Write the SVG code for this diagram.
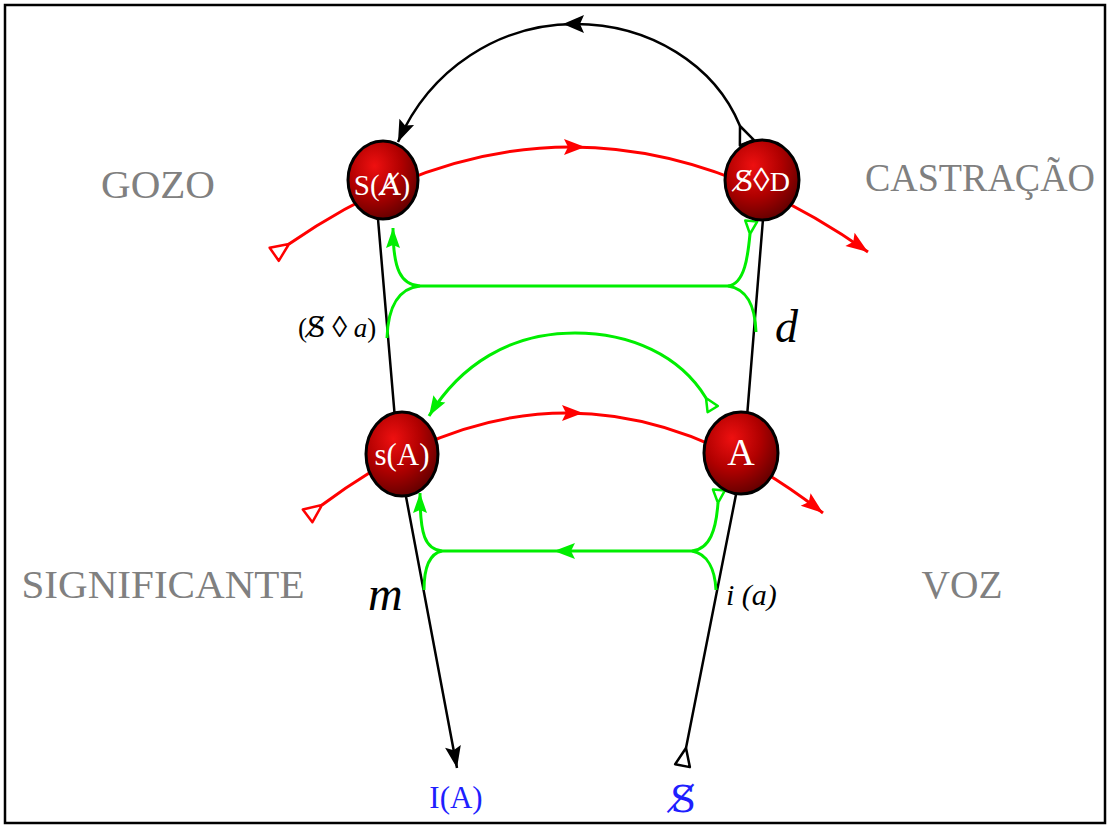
<svg xmlns="http://www.w3.org/2000/svg" width="1110" height="828" viewBox="0 0 1110 828">
<style>
.k{fill:none;stroke:#000;stroke-width:2.5}
.r{fill:none;stroke:#ff0000;stroke-width:3}
.g{fill:none;stroke:#00ee00;stroke-width:3}
.node{fill:url(#ball);stroke:#000;stroke-width:3}
.nl{font-family:"Liberation Serif","DejaVu Serif",serif;fill:#fff}
.big{font-family:"Liberation Serif",serif;fill:#808080;text-anchor:middle;font-size:39px}
.lab{font-family:"Liberation Serif","DejaVu Serif",serif;fill:#000}
.blue{font-family:"Liberation Serif","DejaVu Serif",serif;fill:#1f1fff}
.dv{font-family:"DejaVu Serif",serif}
</style>
<defs>
<radialGradient id="ball" cx="0.38" cy="0.32" r="0.7">
<stop offset="0" stop-color="#ee1010"/>
<stop offset="0.55" stop-color="#b00000"/>
<stop offset="1" stop-color="#650000"/>
</radialGradient>
<marker id="arrK" markerUnits="userSpaceOnUse" markerWidth="24" markerHeight="20" viewBox="0 0 24 20" refX="22" refY="10" orient="auto" overflow="visible"><path d="M0,2 L22,10 L0,18 L4,10 z" fill="#000"/></marker>
<marker id="arrR" markerUnits="userSpaceOnUse" markerWidth="24" markerHeight="20" viewBox="0 0 24 20" refX="22" refY="10" orient="auto" overflow="visible"><path d="M0,2 L22,10 L0,18 L4,10 z" fill="#ff0000"/></marker>
<marker id="arrG" markerUnits="userSpaceOnUse" markerWidth="22" markerHeight="18" viewBox="0 0 22 18" refX="20" refY="9" orient="auto" overflow="visible"><path d="M0,2 L20,9 L0,16 L3,9 z" fill="#00ee00"/></marker>
<marker id="tailK" markerUnits="userSpaceOnUse" markerWidth="22" markerHeight="20" viewBox="-20 -10 22 20" refX="0" refY="0" orient="auto" overflow="visible"><path d="M0,0 L-18,-7.5 L-18,7.5 z" fill="#fff" stroke="#000" stroke-width="2.5" stroke-linejoin="round"/></marker>
<marker id="tailR" markerUnits="userSpaceOnUse" markerWidth="22" markerHeight="20" viewBox="-20 -10 22 20" refX="0" refY="0" orient="auto" overflow="visible"><path d="M0,0 L-18,-8 L-18,8 z" fill="#fff" stroke="#ff0000" stroke-width="2.5" stroke-linejoin="round"/></marker>
<marker id="tailG" markerUnits="userSpaceOnUse" markerWidth="16" markerHeight="16" viewBox="-14 -8 16 16" refX="0" refY="0" orient="auto" overflow="visible"><path d="M0,0 L-13,-6 L-13,6 z" fill="none" stroke="#00ee00" stroke-width="2.5" stroke-linejoin="round"/></marker>
</defs>
<rect x="5" y="5" width="1100" height="818" fill="#fff" stroke="#000" stroke-width="2.5"/>
<g id="connectors">
<path class="k" d="M 378 219 L 398 454 L 457 768" marker-end="url(#arrK)"/>
<path class="k" d="M 686 748 L 744 454 L 763 219" marker-start="url(#tailK)"/>
<path class="k" d="M 740 126 C 715 65 650 24 575 24 C 500 24 430 68 398 142" marker-start="url(#tailK)" marker-end="url(#arrK)"/>
<polygon points="563,24 584,15 580,24 584,33" fill="#000"/>
<path class="r" d="M 289 244 Q 575 46 868 252" marker-start="url(#tailR)" marker-end="url(#arrR)"/>
<polygon points="585,147 564,139 568,147 564,155" fill="#ff0000"/>
<path class="r" d="M 322 505 Q 572 317 823 513" marker-start="url(#tailR)" marker-end="url(#arrR)"/>
<polygon points="583,413 562,405 566,413 562,421" fill="#ff0000"/>
<path class="g" d="M 420 286 L 728 286"/>
<path class="g" d="M 420 286 C 401 285 393 270 393 228" marker-end="url(#arrG)"/>
<path class="g" d="M 420 286 C 400 288 388 305 387 338"/>
<path class="g" d="M 750 234 C 748 255 745 284 728 286" marker-start="url(#tailG)"/>
<path class="g" d="M 728 286 C 747 289 755 305 756 332"/>
<path class="g" d="M 442 551 L 692 551"/>
<polygon points="554,551 575,543 571,551 575,559" fill="#00ee00"/>
<path class="g" d="M 442 551 C 425 549 420 535 420 493" marker-end="url(#arrG)"/>
<path class="g" d="M 442 551 C 428 554 424 570 424 590"/>
<path class="g" d="M 718 503 C 716 530 710 549 692 551" marker-start="url(#tailG)"/>
<path class="g" d="M 692 551 C 708 554 715 570 716 590"/>
<path class="g" d="M 706 398 C 680 355 630 333 575 333 C 510 333 460 365 429 416" marker-start="url(#tailG)" marker-end="url(#arrG)"/>
</g>
<g id="node-SA">
<ellipse class="node" cx="383" cy="180" rx="35" ry="39"/>
<text class="nl" x="382" y="195" font-size="29" text-anchor="middle">S(<tspan class="dv">A̸</tspan>)</text>
</g>
<g id="node-SD">
<ellipse class="node" cx="762" cy="180" rx="37" ry="40"/>
<text class="nl" x="762" y="191" font-size="28" text-anchor="middle"><tspan class="dv">S̸</tspan><tspan font-size="33">◊</tspan>D</text>
</g>
<g id="node-sA">
<ellipse class="node" cx="402" cy="454" rx="36" ry="42"/>
<text class="nl" x="402" y="465" font-size="31" text-anchor="middle">s(A)</text>
</g>
<g id="node-A">
<ellipse class="node" cx="741" cy="453" rx="37" ry="41"/>
<text class="nl" x="741" y="465" font-size="38" text-anchor="middle">A</text>
</g>
<g id="labels">
<text class="big" x="158" y="198" textLength="114" lengthAdjust="spacingAndGlyphs">GOZO</text>
<text class="big" x="980" y="191" textLength="230" lengthAdjust="spacingAndGlyphs">CASTRAÇÃO</text>
<text class="big" x="163" y="598" textLength="283" lengthAdjust="spacingAndGlyphs">SIGNIFICANTE</text>
<text class="big" x="962" y="598" textLength="81" lengthAdjust="spacingAndGlyphs">VOZ</text>
<text class="lab" x="298" y="337" font-size="27">(<tspan class="dv">S̸</tspan> <tspan font-size="30">◊</tspan> <tspan font-style="italic">a</tspan>)</text>
<text class="lab" x="775" y="342" font-size="46" font-style="italic">d</text>
<text class="lab" x="368" y="610" font-size="48" font-style="italic">m</text>
<text class="lab" x="726" y="605" font-size="30" font-style="italic">i (a)</text>
<text class="blue" x="456" y="808" font-size="31" text-anchor="middle">I(A)</text>
<text class="blue" x="683" y="812" font-size="38" text-anchor="middle"><tspan class="dv">S̸</tspan></text>
</g>
</svg>
